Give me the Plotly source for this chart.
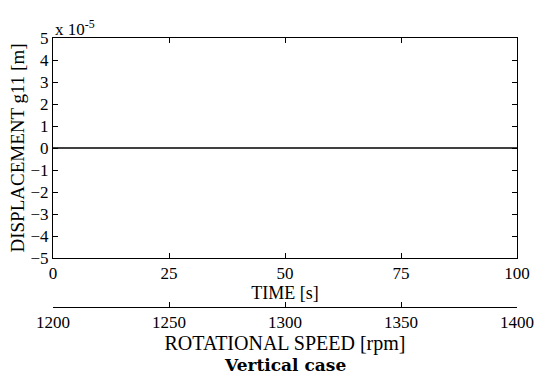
import plotly.graph_objects as go

time_s = [0, 25, 50, 75, 100]
displacement = [0.0, 0.0, 0.0, 0.0, 0.0]   # in units of 1e-5 m
time_ticks = [0, 25, 50, 75, 100]
speed_ticks = [1200, 1250, 1300, 1350, 1400]
y_ticks = [-5, -4, -3, -2, -1, 0, 1, 2, 3, 4, 5]

FONT = "Liberation Serif"
W, H = 546, 376
mt, mb, ml, mr = 38, 69, 53, 29
plot_h = H - mt - mb
dom_bottom = (307 - 258) / plot_h

fig = go.Figure()
fig.add_trace(go.Scatter(x=time_s, y=displacement, mode="lines",
                         line=dict(color="black", width=1.6), showlegend=False))
fig.add_trace(go.Scatter(x=[speed_ticks[0], speed_ticks[-1]], y=[None, None], xaxis="x2",
                         mode="lines", showlegend=False, hoverinfo="skip"))

axis_common = dict(showgrid=False, zeroline=False, linecolor="black", linewidth=1,
                   ticks="inside", tickcolor="black", ticklen=5,
                   tickfont=dict(family=FONT, size=17, color="black"))

fig.update_layout(
    width=W, height=H,
    margin=dict(t=mt, b=mb, l=ml, r=mr),
    paper_bgcolor="white", plot_bgcolor="white",
    font=dict(family=FONT, color="black"),
    xaxis=dict(range=[0, 100], tickvals=time_ticks, mirror="ticks", showline=True,
               title=dict(text="TIME [s]", font=dict(family=FONT, size=18), standoff=0),
               **axis_common),
    yaxis=dict(range=[-5, 5], tickvals=y_ticks, domain=[dom_bottom, 1], mirror="ticks",
               showline=True,
               title=dict(text="DISPLACEMENT g11 [m]", font=dict(family=FONT, size=19), standoff=0),
               **axis_common),
    xaxis2=dict(range=[1200, 1400], tickvals=speed_ticks, overlaying="x", anchor="free",
                position=0, side="bottom", showline=True,
                title=dict(text="ROTATIONAL SPEED [rpm]", font=dict(family=FONT, size=20), standoff=0),
                **axis_common),
    annotations=[
        dict(text="x 10<sup>-5</sup>", x=0, y=1, xref="paper", yref="paper",
             xanchor="left", yanchor="bottom", showarrow=False, xshift=0, yshift=-3,
             font=dict(family=FONT, size=17, color="black")),
        dict(text="<b>Vertical case</b>", x=0.5, y=0, xref="paper", yref="paper",
             showarrow=False, font=dict(family="DejaVu Serif", size=17, color="black")),
    ],
)
fig.layout.annotations[1].y = -(365 - (H - mb)) / plot_h
fig.layout.annotations[1].yanchor = "middle"
fig.write_html("out.html")
